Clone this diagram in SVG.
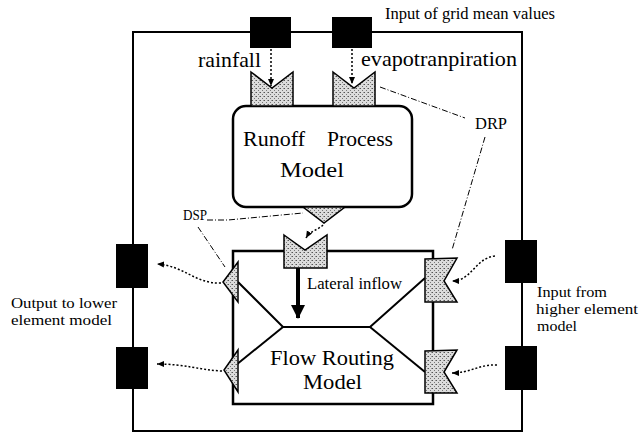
<svg xmlns="http://www.w3.org/2000/svg" width="639" height="434" viewBox="0 0 639 434" font-family="'Liberation Serif', 'Times New Roman', 'DejaVu Serif', serif">
<defs>
<pattern id="stip" width="4" height="4" patternUnits="userSpaceOnUse">
<rect width="4" height="4" fill="#dcdcdc"/>
<rect x="0" y="0" width="1" height="1" fill="#555"/>
<rect x="2" y="2" width="1" height="1" fill="#777"/>
<rect x="3" y="0" width="1" height="1" fill="#999"/>
</pattern>
<marker id="ah" markerWidth="8" markerHeight="8" refX="7" refY="4" orient="auto" markerUnits="userSpaceOnUse">
<path d="M0,1 L7,4 L0,7 Z" fill="#000"/>
</marker>
<marker id="big" markerWidth="14" markerHeight="18" refX="13" refY="7" orient="auto" markerUnits="userSpaceOnUse">
<path d="M0,0 L14,7 L0,14 Z" fill="#000"/>
</marker>
</defs>
<style>
text{font-family:'Liberation Serif','Times New Roman','DejaVu Serif',serif;fill:#000}
.box{fill:none;stroke:#000}
.sq{fill:#000}
.rcv{fill:url(#stip);stroke:#000;stroke-width:1.5}
.dot{fill:none;stroke:#000;stroke-width:1.5;stroke-dasharray:2 2}
.lead{fill:none;stroke:#000;stroke-width:1;stroke-dasharray:6 2 1 2}
.ln{fill:none;stroke:#000;stroke-width:2}
</style>
<rect width="639" height="434" fill="#fff"/>

<g id="outer">
<rect class="box" x="133" y="32" width="389" height="399" stroke-width="2"/>
</g>

<g id="grid-input">
<rect class="sq" x="250" y="17" width="41" height="31"/>
<rect class="sq" x="332" y="17" width="40" height="31"/>
<text x="385" y="19" font-size="16" textLength="170" lengthAdjust="spacingAndGlyphs">Input of grid mean values</text>
<text x="198" y="67" font-size="22" textLength="63" lengthAdjust="spacingAndGlyphs">rainfall</text>
<text x="361" y="66" font-size="22" textLength="156" lengthAdjust="spacingAndGlyphs">evapotranpiration</text>
</g>

<g id="runoff">
<rect class="box" x="233" y="106" width="179" height="101" rx="13" stroke-width="2.5"/>
<polygon class="rcv" points="251,72 272,88 293,72 293,106 251,106"/>
<polygon class="rcv" points="333,72 354,88 375,72 375,106 333,106"/>
<polygon class="rcv" points="303,207 345,207 324,223"/>
<text x="243" y="146" font-size="22" textLength="62" lengthAdjust="spacingAndGlyphs">Runoff</text>
<text x="327" y="146" font-size="22" textLength="66" lengthAdjust="spacingAndGlyphs">Process</text>
<text x="280" y="177" font-size="22" textLength="64" lengthAdjust="spacingAndGlyphs">Model</text>
</g>

<g id="flow-routing">
<rect class="box" x="233" y="251" width="200" height="153" stroke-width="2.5"/>
<polyline class="ln" points="238,282 283,327 370,327 425,278"/>
<polyline class="ln" points="236,365 283,327"/>
<polyline class="ln" points="370,327 425,372"/>
<polygon class="rcv" points="284,235 305,250 327,235 327,268 284,268"/>
<polygon class="rcv" points="238,262 223,282 238,302"/>
<polygon class="rcv" points="238,350 224,370 238,392"/>
<polygon class="rcv" points="425,259 457,258 444,281 457,302 425,302"/>
<polygon class="rcv" points="425,351 457,350 444,372 457,393 425,393"/>
<text x="307" y="289" font-size="16" textLength="95" lengthAdjust="spacingAndGlyphs">Lateral inflow</text>
<text x="270" y="365" font-size="22" textLength="124" lengthAdjust="spacingAndGlyphs">Flow Routing</text>
<text x="303" y="389" font-size="22" textLength="59" lengthAdjust="spacingAndGlyphs">Model</text>
</g>

<g id="lower-output">
<rect class="sq" x="116" y="244" width="32" height="44"/>
<rect class="sq" x="116" y="347" width="32" height="42"/>
<text x="11" y="308" font-size="15.5" textLength="106" lengthAdjust="spacingAndGlyphs">Output to lower</text>
<text x="11" y="325" font-size="15.5" textLength="101" lengthAdjust="spacingAndGlyphs">element model</text>
</g>

<g id="higher-input">
<rect class="sq" x="505" y="240" width="32" height="43"/>
<rect class="sq" x="505" y="346" width="32" height="44"/>
<text x="537" y="297" font-size="15.5" textLength="70" lengthAdjust="spacingAndGlyphs">Input from</text>
<text x="536" y="314" font-size="15.5" textLength="102" lengthAdjust="spacingAndGlyphs">higher element</text>
<text x="537" y="331" font-size="15.5" textLength="40" lengthAdjust="spacingAndGlyphs">model</text>
</g>

<g id="labels">
<text x="183" y="220" font-size="15" textLength="24" lengthAdjust="spacingAndGlyphs">DSP</text>
<text x="475" y="129" font-size="16" textLength="32" lengthAdjust="spacingAndGlyphs">DRP</text>
</g>

<g id="connectors">
<line class="dot" x1="271" y1="49" x2="271" y2="86" marker-end="url(#ah)"/>
<line class="dot" x1="352" y1="49" x2="352" y2="84" marker-end="url(#ah)"/>
<path class="dot" d="M323,225 C318,230 310,231 306,238" marker-end="url(#ah)"/>
<line x1="298" y1="268" x2="298" y2="318" stroke="#000" stroke-width="4" marker-end="url(#big)"/>
<path class="dot" d="M221,283 C195,284 185,266 157,264" marker-end="url(#ah)"/>
<path class="dot" d="M222,371 C200,370 185,364 157,364" marker-end="url(#ah)"/>
<path class="dot" d="M495,256 C475,258 472,281 452,281" marker-end="url(#ah)"/>
<path class="dot" d="M497,365 C480,364 470,373 452,373" marker-end="url(#ah)"/>
<polyline class="lead" points="207,220 228,220 303,213"/>
<line class="lead" x1="198" y1="227" x2="225" y2="267"/>
<line class="lead" x1="380" y1="87" x2="465" y2="118"/>
<line class="lead" x1="485" y1="137" x2="452" y2="250"/>
</g>
</svg>
